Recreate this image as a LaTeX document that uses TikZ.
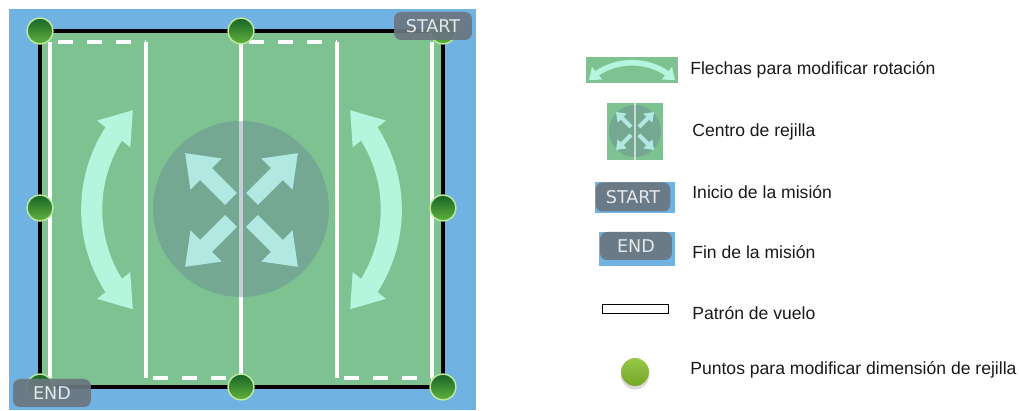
\documentclass[tikz,border=0pt]{standalone}
\usepackage{fontspec}
\setmainfont{Liberation Sans}
\newfontfamily\tagfont{DejaVu Sans}
\usepackage{tikz}
\usetikzlibrary{arrows.meta, bending, positioning, shadows}
\definecolor{sky}{RGB}{112, 178, 226}
\definecolor{field}{RGB}{126, 194, 146}
\definecolor{hub}{RGB}{100, 128, 150}
\definecolor{mint}{RGB}{180, 245, 222}
\definecolor{ice}{RGB}{178, 232, 226}
\definecolor{tagbg}{RGB}{106, 118, 128}
\definecolor{tagtext}{RGB}{228, 232, 234}
\definecolor{knobtop}{RGB}{22, 100, 38}
\definecolor{knobbot}{RGB}{98, 178, 64}
\definecolor{knobrim}{RGB}{190, 235, 160}
\definecolor{legtop}{RGB}{152, 200, 74}
\definecolor{legbot}{RGB}{116, 166, 40}
\definecolor{textdark}{RGB}{25, 25, 25}

\begin{document}
\begin{tikzpicture}[
    x=0.02cm, y=-0.02cm,
    knob/.style={circle, draw=knobrim, line width=0.8pt, top color=knobtop, bottom color=knobbot, minimum size=0.52cm, inner sep=0pt},
    legknob/.style={circle, top color=legtop, bottom color=legbot, minimum size=0.56cm, inner sep=0pt, drop shadow={opacity=0.3, shadow xshift=0pt, shadow yshift=-2pt}},
    tag/.style={rectangle, rounded corners=4pt, fill=tagbg, fill opacity=0.92, text opacity=1, text=tagtext, font=\tagfont\fontsize{10}{12}\selectfont, minimum width=1.56cm, minimum height=0.56cm, inner sep=0pt},
    legtext/.style={anchor=west, inner sep=0pt, text=textdark, font=\fontsize{10}{12}\selectfont},
    leg/.style={draw=white, line width=2.2pt},
    pass/.style={draw=white, line width=2.2pt, dash pattern=on 8.5pt off 8pt, dash phase=-8.5pt},
    rotarrow/.style={{Triangle[width=23pt,length=17.5pt]}-{Triangle[width=23pt,length=17.5pt]}, line width=12pt, draw=mint},
    ctrarrow/.style={-{Triangle[width=24pt,length=17pt]}, line width=9.6pt, draw=ice},
    legrot/.style={{Triangle[width=9pt,length=6pt]}-{Triangle[width=9pt,length=6pt]}, line width=3.2pt, draw=mint},
    legctr/.style={-{Triangle[width=7pt,length=5pt]}, line width=2.4pt, draw=ice}
]
    \useasboundingbox (0,0) rectangle (1019,411);

    % Map
    \fill[sky] (9,9) rectangle (476,410);
    \fill[field] (40,31) rectangle (443,387);

    % Flight pattern
    \coordinate (p1) at (432,42);
    \coordinate (p2) at (432,378);
    \coordinate (p3) at (337,378);
    \coordinate (p4) at (337,42);
    \coordinate (p5) at (241,42);
    \coordinate (p6) at (241,378);
    \coordinate (p7) at (146,378);
    \coordinate (p8) at (146,42);
    \coordinate (p9) at (50,42);
    \coordinate (p10) at (50,378);
    \draw[leg] (p1) -- (p2);
    \draw[pass] (p2) -- (p3);
    \draw[leg] (p3) -- (p4);
    \draw[pass] (p4) -- (p5);
    \draw[leg] (p5) -- (p6);
    \draw[pass] (p6) -- (p7);
    \draw[leg] (p7) -- (p8);
    \draw[pass] (p8) -- (p9);
    \draw[leg] (p9) -- (p10);

    % Grid centre
    \node[circle, fill=hub, fill opacity=0.38, minimum size=3.52cm, inner sep=0pt] (hub) at (241,209) {};
    \draw[ctrarrow] (231,199) -- (185,153);
    \draw[ctrarrow] (252,199) -- (298,153);
    \draw[ctrarrow] (231,221) -- (185,267);
    \draw[ctrarrow] (252,221) -- (298,267);

    % Rotation arrows
    \draw[rotarrow] (133,110) arc[start angle=225, end angle=135, radius=141];
    \draw[rotarrow] (350,110) arc[start angle=-45, end angle=45, radius=141];

    \draw[black, line width=1.8pt] (40,31) rectangle (443,387);

    % Knobs
    \node[knob] (k-nw) at (40,31) {};
    \node[knob] (k-n) at (241,31) {};
    \node[knob] (k-ne) at (443,31) {};
    \node[knob] (k-w) at (40,208) {};
    \node[knob] (k-e) at (443,208) {};
    \node[knob] (k-sw) at (40,387) {};
    \node[knob] (k-s) at (241,387) {};
    \node[knob] (k-se) at (443,387) {};

    \node[tag] (start) at (433,26) {START};
    \node[tag] (end) at (52,393) {END};

    % Legend
    \fill[field] (586,57) rectangle (678,83);
    \draw[legrot] (589,80) .. controls (612,57) and (652,57) .. (675,80);
    \node[legtext] (t-rot) at (690,70) {Flechas para modificar rotación};

    \fill[field] (607,103) rectangle (663,160);
    \fill[hub, opacity=0.38] (635,131) circle (26);
    \draw[white, opacity=0.6, line width=0.8pt] (635,103) -- (635,160);
    \draw[legctr] (631,127) -- (616,112);
    \draw[legctr] (639,127) -- (654,112);
    \draw[legctr] (631,135) -- (616,150);
    \draw[legctr] (639,135) -- (654,150);
    \node[legtext] (t-ctr) at (692,132) {Centro de rejilla};

    \fill[sky] (595,182) rectangle (675,213);
    \node[tag, minimum width=1.5cm, minimum height=0.58cm] (leg-start) at (633,197) {START};
    \node[legtext] (t-start) at (692,192) {Inicio de la misión};

    \fill[sky] (599,232) rectangle (675,266);
    \node[tag, minimum width=1.44cm, minimum height=0.56cm] (leg-end) at (636,246) {END};
    \node[legtext] (t-end) at (692,252) {Fin de la misión};

    \draw[black, line width=0.5pt, fill=white] (602,304) rectangle (668,313);
    \node[legtext] (t-path) at (692,313) {Patrón de vuelo};

    \node[legknob] (leg-knob) at (635,372) {};
    \node[legtext] (t-knob) at (690,370) {Puntos para modificar dimensión de rejilla};

\end{tikzpicture}
\end{document}
